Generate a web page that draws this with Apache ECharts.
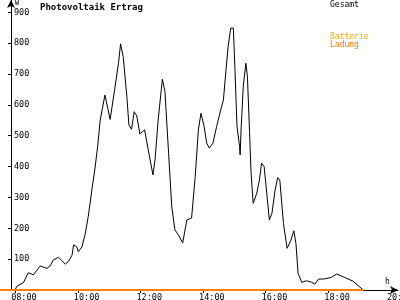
<!DOCTYPE html>
<html>
<head>
<meta charset="utf-8">
<script src="https://cdn.jsdelivr.net/npm/echarts@6/dist/echarts.min.js"></script>
<style>html,body{margin:0;padding:0;background:#fff}#c{width:400px;height:300px}</style>
</head>
<body>
<div id="c"></div>
<script>
// Time of day (HH:MM) and power in W for "Gesamt"
const gesamtTimes = ["08:00","08:03","08:06","08:16","08:25","08:35","08:48","09:01","09:07","09:13","09:23","09:36","09:42","09:49","09:52","09:58","10:01","10:08","10:14","10:20","10:27","10:33","10:38","10:43","10:52","11:02","11:11","11:18","11:22","11:27","11:34","11:38","11:43","11:48","11:53","11:59","12:08","12:15","12:24","12:28","12:34","12:42","12:47","12:54","13:00","13:06","13:13","13:21","13:29","13:38","13:45","13:51","13:56","14:02","14:07","14:12","14:19","14:26","14:33","14:39","14:44","14:48","14:53","14:58","15:01","15:05","15:10","15:11","15:13","15:17","15:22","15:25","15:29","15:32","15:36","15:43","15:48","15:52","15:57","16:02","16:07","16:12","16:18","16:23","16:27","16:34","16:41","16:48","16:54","16:58","17:02","17:09","17:18","17:28","17:34","17:41","17:53","18:06","18:16","18:28","18:47","19:07"];
const gesamtValues = [0,12,14,24,56,49,78,70,78,97,106,84,92,113,146,140,124,140,180,238,324,395,465,551,632,553,654,735,798,757,627,535,521,578,564,506,519,454,373,422,551,683,643,443,270,195,178,153,227,233,368,519,573,530,476,460,476,530,578,616,714,789,849,849,720,530,465,438,525,660,735,692,514,378,281,314,357,411,400,314,227,249,324,364,357,216,135,160,192,150,54,25,30,25,19,35,36,41,52,43,29,0];
const ladungTimes = ["07:31","19:07"];
const ladungValues = [0,0];
const batterieValues = [];
const xTickHours = [8,10,12,14,16,18,20];
const yTickValues = [100,200,300,400,500,600,700,800,900];
const seriesNames = ["Gesamt","Batterie","Ladung"];

const toH = t => { const p = t.split(":"); return +p[0] + (+p[1]) / 60; };
const pair = (ts, vs) => ts.map((t, i) => [toH(t), vs[i]]);
const pad = n => (n < 10 ? "0" : "") + n;

const mono = "DejaVu Sans Mono";
const chart = echarts.init(document.getElementById("c"), null, {renderer: "canvas"});
chart.setOption({
  animation: false,
  backgroundColor: "#fff",
  title: {
    text: "Photovoltaik Ertrag", left: 40, top: 3, padding: 0,
    textStyle: {fontFamily: mono, fontWeight: "bold", fontSize: 9, color: "#000"}
  },
  legend: [
    {data: [seriesNames[0]], left: 325, top: 1, padding: 0, icon: "none", itemWidth: 0, itemHeight: 8,
     textStyle: {fontFamily: mono, fontSize: 8, color: "#000"}},
    {data: [{name: seriesNames[1], textStyle: {color: "#FFB000"}}, {name: seriesNames[2], textStyle: {color: "#FF8000"}}],
     orient: "vertical", left: 325, top: 33, padding: 0, itemGap: 0, icon: "none", itemWidth: 0, itemHeight: 8,
     textStyle: {fontFamily: mono, fontSize: 8}}
  ],
  grid: {left: 0, right: 2, top: 0, bottom: 10, containLabel: false, outerBoundsMode: "none"},
  xAxis: {
    type: "value", min: toH("07:31"), max: 20.224,
    name: "h", nameLocation: "end", nameGap: -13,
    nameTextStyle: {fontFamily: mono, fontSize: 8, color: "#000", align: "left", verticalAlign: "bottom", padding: [0,0,4,0]},
    axisLine: {show: true, onZero: false, lineStyle: {color: "#000", width: 1}, symbol: ["none","arrow"], symbolSize: [6,8]},
    axisTick: {show: true, length: 3, customValues: xTickHours, lineStyle: {color: "#000"}},
    axisLabel: {customValues: xTickHours, formatter: v => pad(Math.round(v)) + ":00", align: "left", padding: [0,0,0,-4],
      margin: 3, fontFamily: mono, fontSize: 8.5, color: "#000"},
    splitLine: {show: false}
  },
  yAxis: {
    type: "value", min: 0, max: 940, offset: -11,
    name: "W", nameLocation: "end", nameGap: 0,
    nameTextStyle: {fontFamily: mono, fontSize: 7, color: "#000", align: "left", verticalAlign: "top", padding: [0,0,0,4]},
    axisLine: {show: true, lineStyle: {color: "#000", width: 1}, symbol: ["none","arrow"], symbolSize: [6,8]},
    axisTick: {show: true, length: 3, customValues: yTickValues, lineStyle: {color: "#000"}},
    axisLabel: {customValues: yTickValues, inside: true, margin: 3, fontFamily: mono, fontSize: 8.5, color: "#000"},
    splitLine: {show: false}
  },
  series: [
    {name: seriesNames[0], type: "line", data: pair(gesamtTimes, gesamtValues), showSymbol: false, symbol: "none",
     color: "#000", lineStyle: {color: "#000", width: 1}, z: 3},
    {name: seriesNames[1], type: "line", data: batterieValues, showSymbol: false, symbol: "none",
     color: "#FFB000", lineStyle: {color: "#FFB000", width: 1}},
    {name: seriesNames[2], type: "line", data: pair(ladungTimes, ladungValues), showSymbol: false, symbol: "none",
     color: "#FF8000", lineStyle: {color: "#FF8000", width: 2}, z: 4}
  ]
});
</script>
</body>
</html>
